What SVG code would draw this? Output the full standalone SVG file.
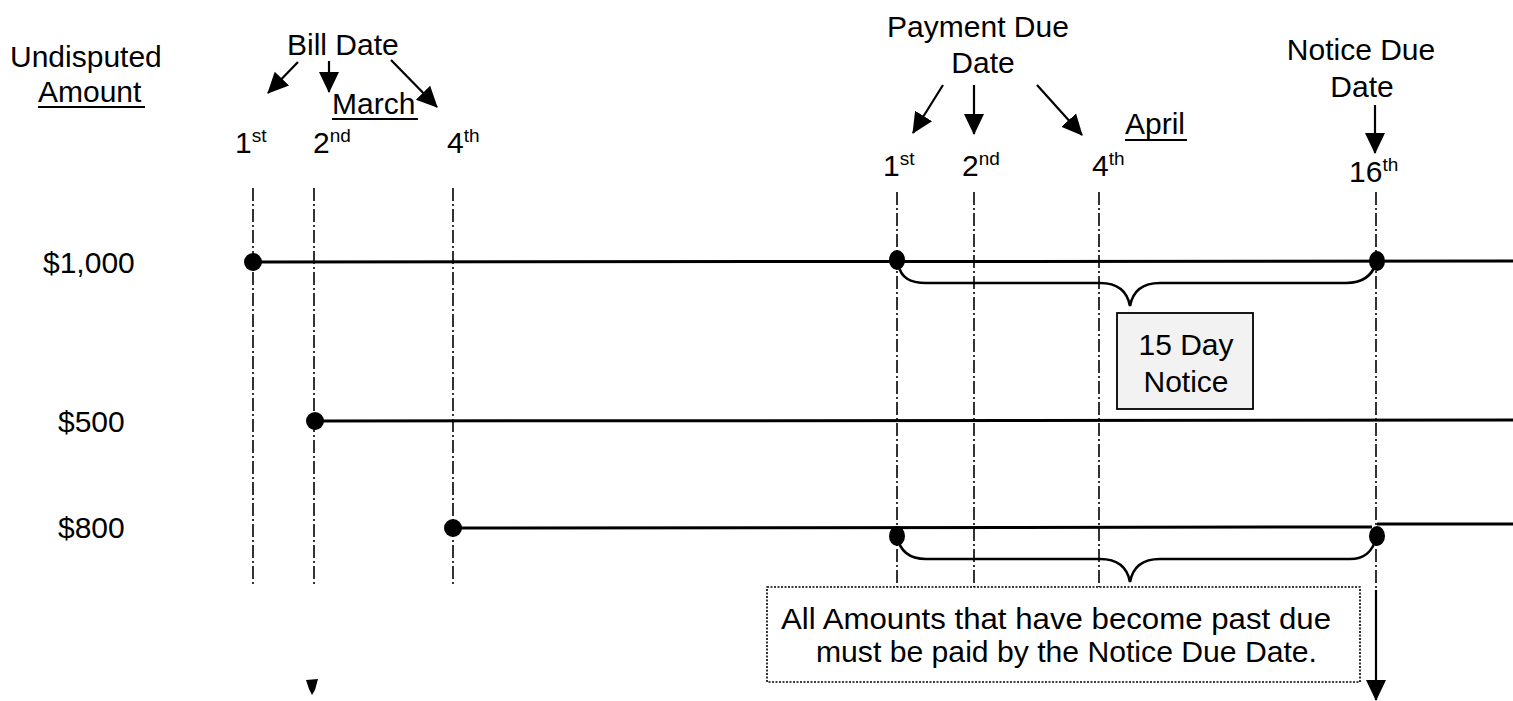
<svg xmlns="http://www.w3.org/2000/svg" width="1513" height="701" viewBox="0 0 1513 701">
<style>
text{font-family:"Liberation Sans",Arial,sans-serif;font-size:30px;fill:#000}
.sup{font-size:19px}
.grid{stroke:#000;stroke-width:1.6;stroke-dasharray:13 3 2 3;fill:none}
.amt{stroke:#000;stroke-width:3;fill:none}
.arr{stroke:#000;stroke-width:2.2;fill:none;marker-end:url(#ah)}
.brace{stroke:#000;stroke-width:2.6;fill:none}
.ul{stroke:#000;stroke-width:2}
</style>
<defs>
<marker id="ah" markerUnits="userSpaceOnUse" markerWidth="22" markerHeight="22" viewBox="0 0 22 22" refX="20" refY="11" orient="auto">
<path d="M0,1 L21,11 L0,21 Z" fill="#000"/>
</marker>
</defs>
<rect width="1513" height="701" fill="#fff"/>

<g id="header-amount">
<text x="10" y="67">Undisputed</text>
<text x="38" y="102">Amount</text>
<line class="ul" x1="38" y1="107" x2="145" y2="107"/>
</g>

<g id="header-bill-date">
<text x="287" y="55">Bill Date</text>
</g>
<g id="month-march">
<text x="332" y="114">March</text>
<line class="ul" x1="332" y1="119" x2="418" y2="119"/>
</g>
<g id="header-payment-due">
<text x="978" y="37" text-anchor="middle">Payment Due</text>
<text x="983" y="73" text-anchor="middle">Date</text>
</g>
<g id="month-april">
<text x="1125" y="134">April</text>
<line class="ul" x1="1125" y1="140" x2="1187" y2="140"/>
</g>
<g id="header-notice-due">
<text x="1361" y="60" text-anchor="middle">Notice Due</text>
<text x="1362" y="97" text-anchor="middle">Date</text>
</g>

<g id="day-labels">
<text x="235" y="153">1<tspan class="sup" dy="-11">st</tspan></text>
<text x="313" y="153">2<tspan class="sup" dy="-11">nd</tspan></text>
<text x="447" y="153">4<tspan class="sup" dy="-11">th</tspan></text>
<text x="883" y="176">1<tspan class="sup" dy="-11">st</tspan></text>
<text x="962" y="176">2<tspan class="sup" dy="-11">nd</tspan></text>
<text x="1092" y="176">4<tspan class="sup" dy="-11">th</tspan></text>
<text x="1349" y="182">16<tspan class="sup" dy="-11">th</tspan></text>
</g>

<g id="amount-labels">
<text x="43" y="273">$1,000</text>
<text x="58" y="432">$500</text>
<text x="58" y="538">$800</text>
</g>

<g id="connectors">
<line class="grid" x1="253" y1="188" x2="253" y2="586"/>
<line class="grid" x1="314" y1="188" x2="314" y2="586"/>
<line class="grid" x1="453" y1="188" x2="453" y2="586"/>
<line class="grid" x1="897" y1="192" x2="897" y2="592"/>
<line class="grid" x1="974" y1="192" x2="974" y2="592"/>
<line class="grid" x1="1099" y1="192" x2="1099" y2="592"/>
<line class="grid" x1="1376" y1="192" x2="1376" y2="592"/>
<line class="arr" x1="1376" y1="590" x2="1376" y2="700"/>

<line class="arr" x1="298" y1="62" x2="268" y2="93"/>
<line class="arr" x1="329" y1="61" x2="329" y2="92"/>
<line class="arr" x1="391" y1="60" x2="437" y2="107"/>
<line class="arr" x1="943" y1="85" x2="913" y2="133"/>
<line class="arr" x1="974" y1="85" x2="974" y2="134"/>
<line class="arr" x1="1037" y1="85" x2="1082" y2="135"/>
<line class="arr" x1="1375" y1="105" x2="1375" y2="153"/>

<line class="amt" x1="253" y1="262" x2="1513" y2="261"/>
<line class="amt" x1="315" y1="421" x2="1513" y2="420"/>
<line class="amt" x1="453" y1="528" x2="1372" y2="527"/>
<line class="amt" x1="1377" y1="524" x2="1513" y2="524"/>

<path class="brace" d="M898,264 C901,278 910,283 926,283 L1100,283 C1117,283 1127,290 1130,306 C1133,290 1143,283 1160,283 L1346,283 C1362,283 1372,276 1376,263"/>
<path class="brace" d="M897,536 C900,552 910,559 926,559 L1100,559 C1117,559 1127,566 1130,582 C1133,566 1143,559 1160,559 L1350,559 C1364,559 1373,551 1376,538"/>
</g>

<g id="dots">
<circle cx="253" cy="262" r="9"/>
<ellipse cx="897" cy="260" rx="8" ry="10"/>
<ellipse cx="1377" cy="261" rx="8" ry="10"/>
<circle cx="315" cy="421" r="9"/>
<circle cx="453" cy="528" r="9"/>
<ellipse cx="897" cy="536" rx="8" ry="10"/>
<ellipse cx="1377" cy="536" rx="8" ry="10"/>
</g>

<g id="box-15-day">
<rect x="1117" y="313" width="136" height="96" fill="#f2f2f2" stroke="#000" stroke-width="1.8"/>
<text x="1186" y="355" text-anchor="middle">15 Day</text>
<text x="1186" y="392" text-anchor="middle">Notice</text>
</g>

<g id="box-all-amounts">
<rect x="767" y="587" width="593" height="95" fill="#fff" stroke="#000" stroke-width="1.6" stroke-dasharray="2 1.5"/>
<text x="781" y="629" textLength="550" lengthAdjust="spacingAndGlyphs">All Amounts that have become past due</text>
<text x="816" y="662" textLength="501" lengthAdjust="spacingAndGlyphs">must be paid by the Notice Due Date.</text>
</g>

<g id="scan-mark">
<path d="M306,680 L318,679 L315,690 L312,695 L309,689 Z" fill="#000"/>
</g>
</svg>
